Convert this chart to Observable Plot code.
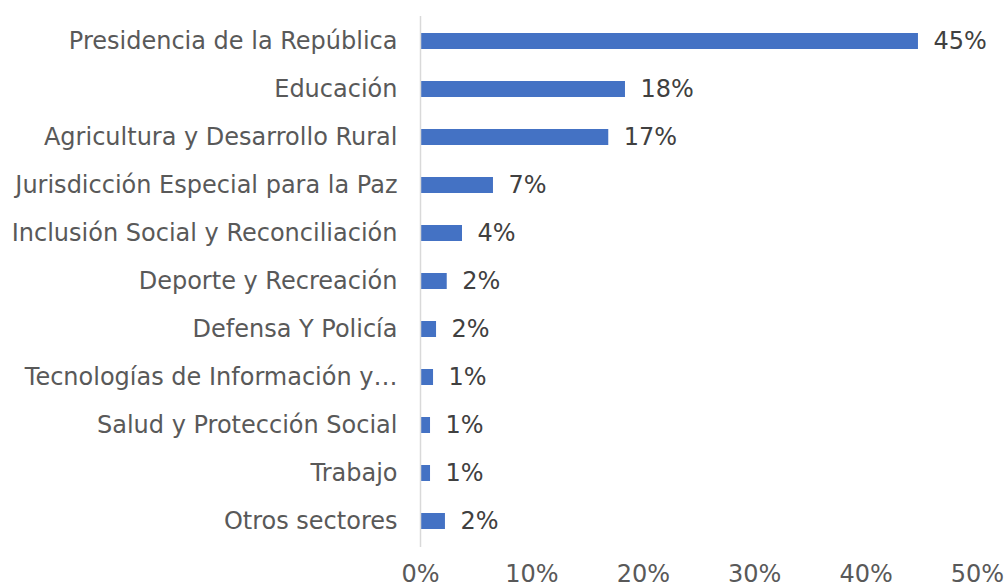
<!DOCTYPE html>
<html><head><meta charset="utf-8">
<script src="https://cdn.jsdelivr.net/npm/d3@7"></script>
<script src="https://cdn.jsdelivr.net/npm/@observablehq/plot@0.6"></script>
<style>html,body{margin:0;padding:0;background:#fff} svg{display:block}</style>
</head><body><div id="chart"></div>
<script>
const sectors = [
  "Presidencia de la República",
  "Educación",
  "Agricultura y Desarrollo Rural",
  "Jurisdicción Especial para la Paz",
  "Inclusión Social y Reconciliación",
  "Deporte y Recreación",
  "Defensa Y Policía",
  "Tecnologías de Información y…",
  "Salud y Protección Social",
  "Trabajo",
  "Otros sectores"
];
const shares = [44.7, 18.4, 16.9, 6.55, 3.77, 2.4, 1.44, 1.17, 0.9, 0.9, 2.24];
const shareLabels = ["45%", "18%", "17%", "7%", "4%", "2%", "2%", "1%", "1%", "1%", "2%"];
const xTicks = [0, 10, 20, 30, 40, 50];

const data = sectors.map((s, i) => ({sector: s, share: shares[i], label: shareLabels[i]}));

const chart = Plot.plot({
  width: 1006,
  height: 587,
  marginLeft: 420,
  marginRight: 29,
  marginTop: 16,
  marginBottom: 40,
  style: {fontFamily: "'DejaVu Sans', Verdana, sans-serif", fontSize: "24px", color: "#595959", background: "#fff", overflow: "visible"},
  x: {domain: [0, 50]},
  y: {domain: sectors, paddingInner: 0.66, paddingOuter: 0.33},
  marks: [
    Plot.barX(data, {x: "share", y: "sector", fill: "#4472C4"}),
    Plot.ruleX([0], {stroke: "#d9d9d9", strokeWidth: 1.5}),
    Plot.text(data, {x: "share", y: "sector", text: "label", textAnchor: "start", dx: 15, fill: "#404040", fontSize: 24}),
    Plot.axisY({tickSize: 0, tickPadding: 23, label: null, fontSize: 24, fill: "#595959"}),
    Plot.axisX({ticks: xTicks, tickSize: 0, tickPadding: 17, tickFormat: d => d + "%", label: null, fontSize: 24, fill: "#595959"})
  ]
});
document.getElementById("chart").appendChild(chart);
</script>
</body></html>
